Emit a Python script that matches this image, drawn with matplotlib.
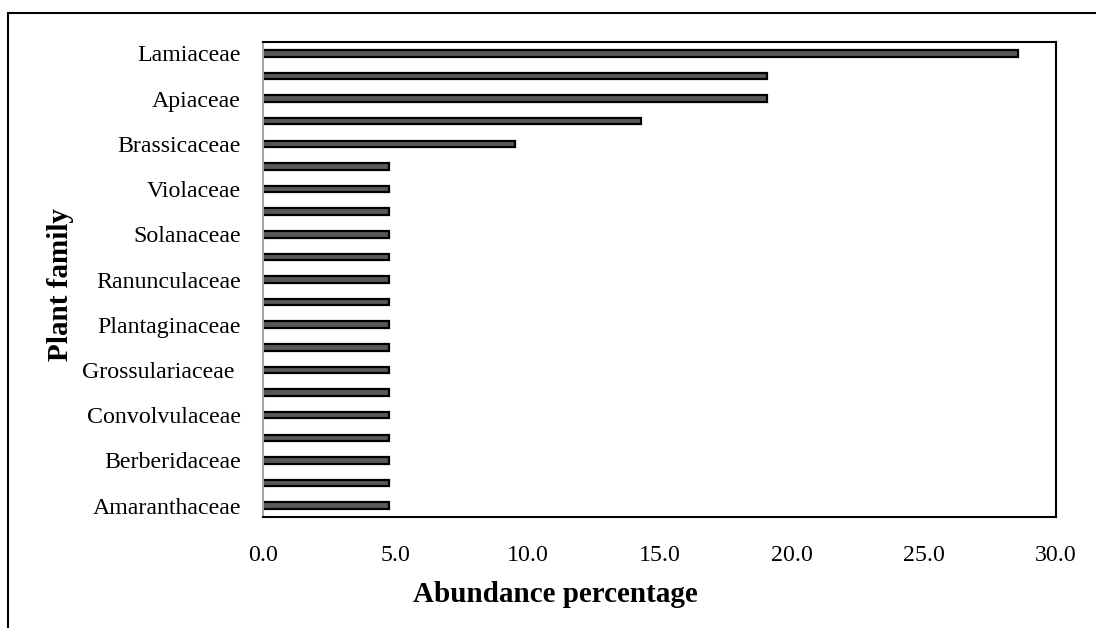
import matplotlib.pyplot as plt
from matplotlib.patches import Rectangle

# bars listed from bottom to top
values = [4.76, 4.76, 4.76, 4.76, 4.76, 4.76, 4.76, 4.76, 4.76, 4.76, 4.76,
          4.76, 4.76, 4.76, 4.76, 4.76, 9.52, 14.29, 19.05, 19.05, 28.57]
labels = ['Amaranthaceae', '', 'Berberidaceae', '', 'Convolvulaceae', '',
          'Grossulariaceae ', '', 'Plantaginaceae', '', 'Ranunculaceae', '',
          'Solanaceae', '', 'Violaceae', '', 'Brassicaceae', '', 'Apiaceae', '',
          'Lamiaceae']
xticks = [0, 5, 10, 15, 20, 25, 30]

plt.rcParams['font.family'] = ['Liberation Serif', 'DejaVu Serif']

W, H = 1096, 628
fig = plt.figure(figsize=(W / 100, H / 100), dpi=100)
ax = fig.add_axes([263/W, 1-517/H, (1056-263)/W, (517-42)/H])

# outer frame of the chart
fig.patches.append(Rectangle((8/W, -0.1), 1.2, 1-13/H+0.1, transform=fig.transFigure,
                             fill=False, edgecolor='black', linewidth=1.5))

pos = list(range(len(values)))
ax.barh(pos, values, height=0.29, color='#595959', edgecolor='black', linewidth=1.6)

ax.set_ylim(-0.5, len(values) - 0.5)
ax.set_xlim(0, 30)
ax.set_yticks(pos)
ax.set_yticklabels(labels, fontsize=17.2)
ax.set_xticks(xticks)
ax.set_xticklabels(['%.1f' % t for t in xticks], fontsize=17.2)
ax.tick_params(length=0)
ax.tick_params(axis='y', pad=16)
ax.tick_params(axis='x', pad=20)

for s in ['top', 'right', 'bottom']:
    ax.spines[s].set_linewidth(1.5)
    ax.spines[s].set_color('black')
ax.spines['left'].set_color('#a6a6a6')
ax.spines['left'].set_linewidth(1.5)

fig.text(555/W, 1-595/H, 'Abundance percentage', fontsize=21, fontweight='bold',
         ha='center', va='center')
fig.text(60/W, 1-285/H, 'Plant family', fontsize=21, fontweight='bold',
         ha='center', va='center', rotation=90)

fig.savefig('out.png', dpi=100)
